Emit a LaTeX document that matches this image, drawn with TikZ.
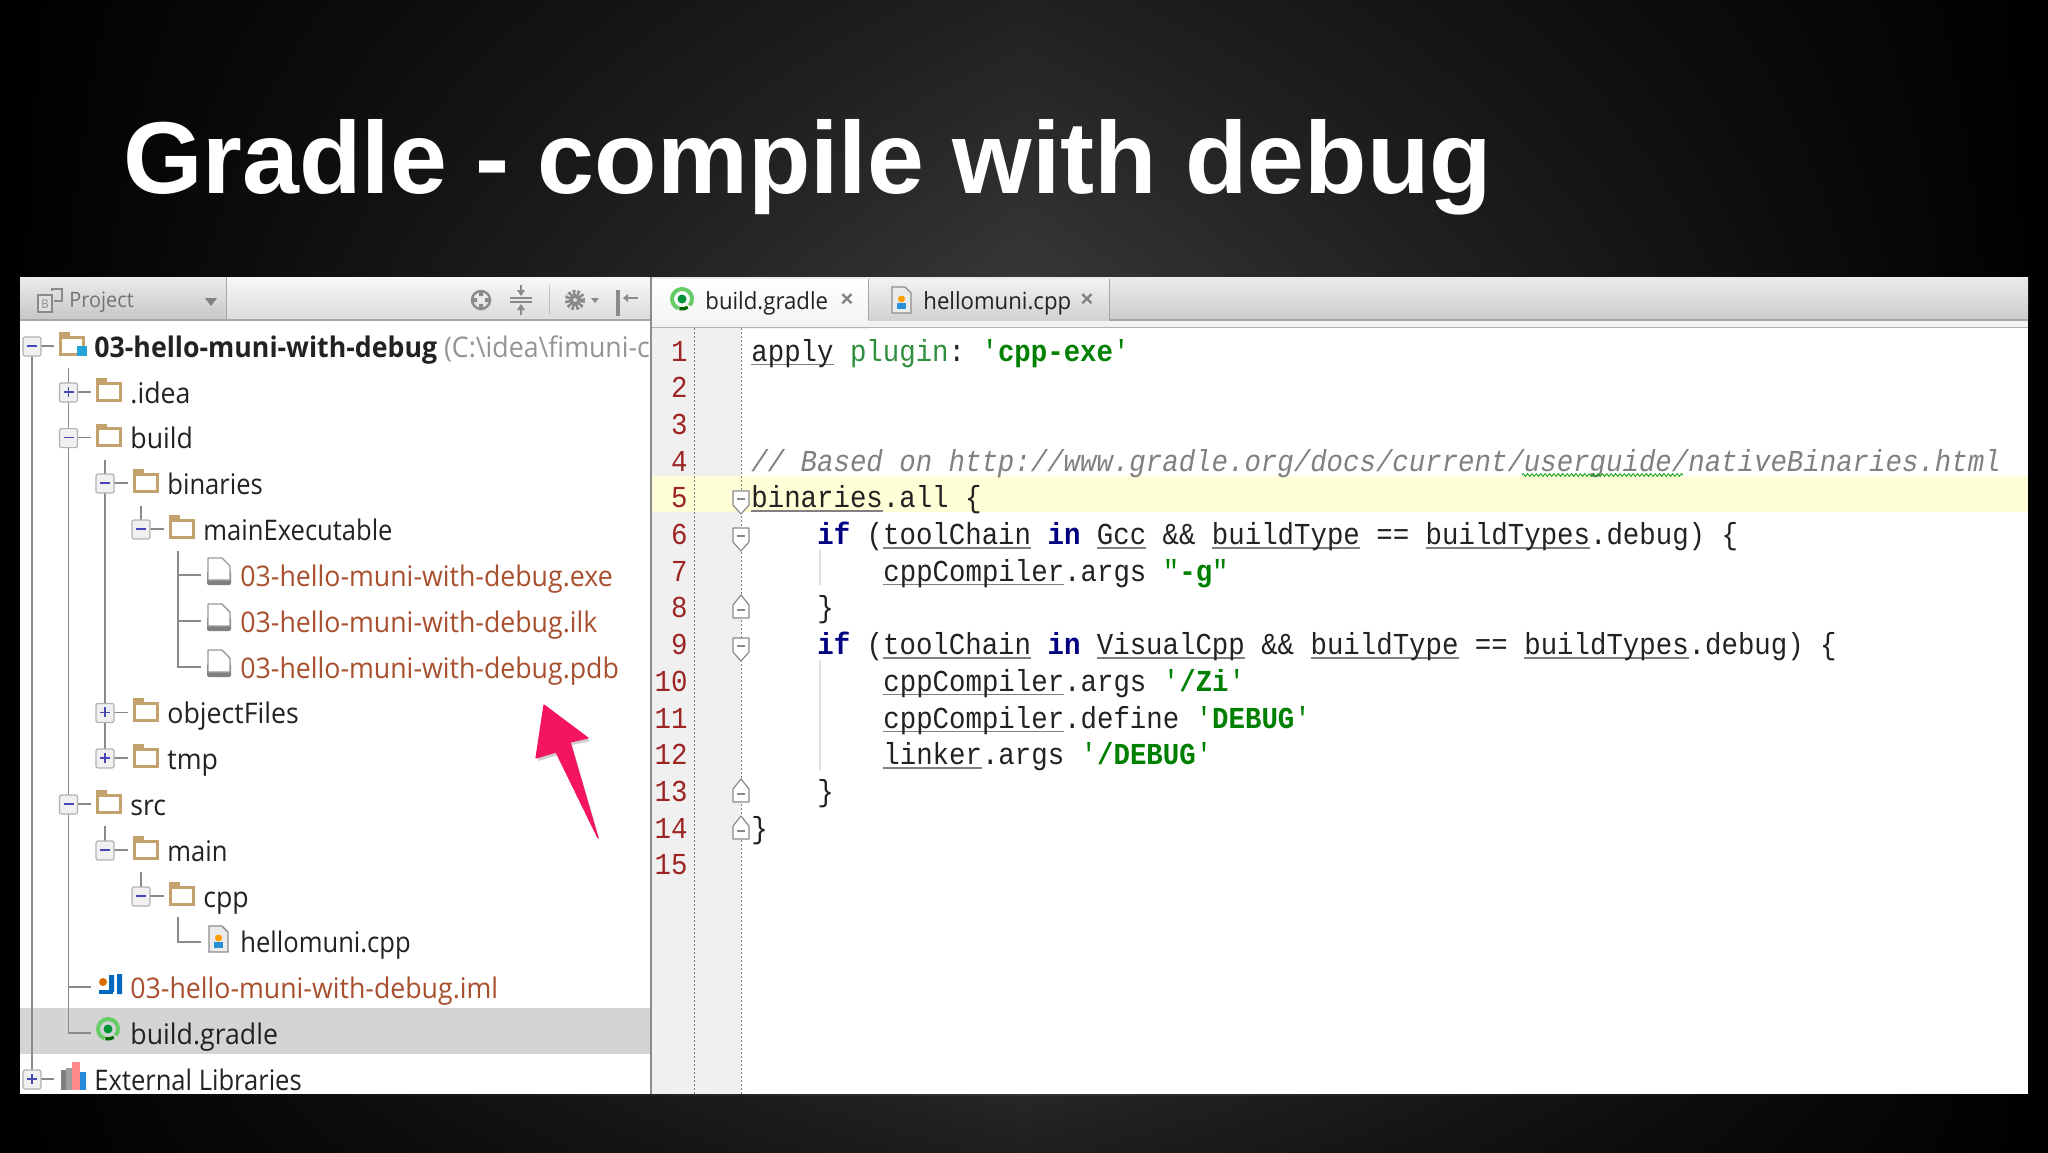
\documentclass[tikz,border=0pt]{standalone}
\usepackage{fontspec}
\usetikzlibrary{decorations.pathmorphing}
\setmainfont{Liberation Sans}
\setmonofont[FakeStretch=0.9]{Liberation Mono}
\newfontfamily\treefont[FakeStretch=0.94]{Open Sans}
\newfontfamily\treenarrow[FakeStretch=0.9]{Open Sans}
\definecolor{folderc}{HTML}{C4A26E}
\definecolor{treeline}{HTML}{8A8A8A}
\definecolor{redfile}{HTML}{A8502E}
\definecolor{lineno}{HTML}{9C2424}
\definecolor{kw}{HTML}{000080}
\definecolor{str}{HTML}{008000}
\definecolor{plug}{HTML}{2F8F3F}
\definecolor{cmt}{HTML}{808080}
\definecolor{codetx}{HTML}{222222}
\definecolor{hl}{HTML}{FFFFD7}
\definecolor{gut}{HTML}{F0F0F0}
\definecolor{pink}{HTML}{F5145F}
\definecolor{icong}{HTML}{8A8A8A}
\newcommand\ulx[1]{\setbox0\hbox{#1}\rlap{\color{cmt}\rule[-2pt]{\wd0}{0.7pt}}\box0\relax}
\newcommand\kwd[1]{{\bfseries\color{kw}#1}}
\newcommand\strb[1]{{\color{str}'\textbf{#1}'}}
\tikzset{
  treetxt/.style={anchor=base west,inner sep=0,font=\treefont\fontsize{14.2}{16}\selectfont,text=codetx},
  narrowtxt/.style={treetxt,font=\treenarrow\fontsize{14.2}{16}\selectfont},
  tabtxt/.style={treetxt,font=\treefont\fontsize{11.8}{14}\selectfont},
  codetxt/.style={anchor=base west,inner sep=0,font=\ttfamily\fontsize{15.22}{17}\selectfont,text=codetx},
  numtxt/.style={anchor=base east,inner sep=0,font=\ttfamily\fontsize{15.22}{17}\selectfont,text=lineno},
  tline/.style={draw=treeline,line width=0.6pt},
  foldm/.style={draw=icong,fill=white,line width=0.6pt,line join=round},
  dots/.style={draw=gray,line width=0.5pt,dash pattern=on 1pt off 1pt},
  tico/.style={draw=icong,line width=1pt}
}
% tree expander: x, y, 1 for plus
\newcommand\expander[3]{%
  \draw[draw=black!30,fill=black!6,line width=0.6pt,rounded corners=1pt] (#1-9,#2-9) rectangle (#1+9,#2+10);
  \draw[draw=blue!45!gray,line width=0.8pt] (#1-5,#2) -- (#1+5,#2);
  \ifnum#3=1 \draw[draw=blue!45!gray,line width=0.8pt] (#1,#2-5) -- (#1,#2+5);\fi}
\newcommand\folder[2]{%
  \fill[folderc] (#1,#2-14) rectangle (#1+11,#2-8);
  \draw[draw=folderc,fill=white,line width=1.5pt] (#1+1,#2-9) rectangle (#1+24,#2+8);}
\newcommand\fileico[2]{%
  \fill[black!50,rounded corners=1pt] (#1,#2-4) rectangle (#1+24,#2+10);
  \draw[draw=black!40,fill=white,line width=0.7pt,line join=round] (#1+1,#2-17) -- (#1+15,#2-17) -- (#1+23,#2-9) -- (#1+23,#2+5) -- (#1+1,#2+5) -- cycle;}
\newcommand\cppico[2]{%
  \draw[draw=black!45,fill=black!8,line width=0.7pt] (#1,#2-15) -- (#1+13,#2-15) -- (#1+19,#2-9) -- (#1+19,#2+11) -- (#1,#2+11) -- cycle;
  \fill[orange!75!yellow] (#1+9.5,#2-3) circle (3.5);
  \fill[blue!40!cyan!70!gray] (#1+5,#2+1) rectangle (#1+14,#2+7);}
\newcommand\gradleico[2]{%
  \draw[draw=green!50!gray!80!white,line width=2pt] (#1+11,#2-1) ++(110:10) arc (110:400:10);
  \draw[draw=green!40!black,line width=1.6pt] (#1+11,#2-1) ++(55:10) arc (55:105:10);
  \fill[green!45!teal!80!black] (#1+11,#2-1) circle (4.5);}
\newcommand\foldd[2]{%
  \draw[foldm] (#1-8,#2-8) -- (#1+8,#2-8) -- (#1+8,#2+6) -- (#1,#2+15) -- (#1-8,#2+6) -- cycle;
  \draw[draw=icong,line width=0.6pt] (#1-4,#2) -- (#1+4,#2);}
\newcommand\foldu[2]{%
  \draw[foldm] (#1-8,#2+9) -- (#1+8,#2+9) -- (#1+8,#2-4) -- (#1,#2-14) -- (#1-8,#2-4) -- cycle;
  \draw[draw=icong,line width=0.6pt] (#1-4,#2+1) -- (#1+4,#2+1);}
\begin{document}
\begin{tikzpicture}[x=0.5pt,y=-0.5pt]
\useasboundingbox (0,0) rectangle (2048,1152);
% slide background: horizontal falloff to black, centre brightness varies with height
\foreach \yy in {0,8,...,1144}{
  \pgfmathsetmacro\vv{\yy<280 ? 0.13+0.085*\yy/280 : (\yy<1094 ? 0.2 : 0.15-0.03*(\yy-1094)/58)}
  \definecolor{bandc}{gray}{\vv}
  \shade[left color=black,right color=black,middle color=bandc] (0,\yy) rectangle (2048,\yy+9);
}
% title
\node[anchor=base west,inner sep=0,text=white,font=\bfseries\fontsize{51.1}{56}\selectfont] (title) at (123,193) {Gradle - compile with debug};
% window
\fill[white] (20,277) rectangle (2028,1094);
% toolbar
\shade[top color=black!3,bottom color=black!14] (20,277) rectangle (650,320);
\shade[top color=black!8,bottom color=black!22] (20,277) rectangle (226,320);
\draw[draw=black!35,line width=0.5pt] (226,277) -- (226,320);
\draw[draw=black!35,line width=1pt] (20,320) -- (650,320);
% tab bar
\shade[top color=black!8,bottom color=black!20] (650,277) rectangle (2028,320);
\fill[black!5] (650,320) rectangle (2028,328);
\draw[draw=black!35,line width=0.8pt] (1109,320) -- (2028,320);
\shade[top color=white,bottom color=black!5] (652,279) rectangle (868,328);
\shade[top color=black!5,bottom color=black!18] (868,279) rectangle (1109,320);
\draw[draw=black!35,line width=0.5pt] (868,279) -- (868,320) (1109,279) -- (1109,320);
\draw[draw=black!30,line width=0.6pt] (650,327.5) -- (2028,327.5);
% toolbar icons
\draw[draw=icong,fill=black!12,line width=1pt] (38,295) rectangle (52,312);
\node[inner sep=0,font=\treefont\fontsize{6}{7}\selectfont,text=icong] (pi) at (45,304) {B};
\draw[draw=icong,line width=1pt] (52,291) -- (52,289) -- (62,289) -- (62,301) -- (54,301);
\node[treetxt,text=black!55,font=\treefont\fontsize{10.6}{13}\selectfont] (projectlbl) at (69,307) {Project};
\fill[black!50] (205,298) -- (217,298) -- (211,306) -- cycle;
\draw[draw=icong,line width=1.2pt] (481,300) circle (9);
\fill[icong] (479,290) rectangle (483,296) (479,304) rectangle (483,310) (471,298) rectangle (477,302) (485,298) rectangle (491,302);
\draw[tico] (510,298) -- (532,298) (510,302) -- (532,302);
\fill[icong] (521,296) -- (517,290) -- (525,290) -- cycle (521,304) -- (517,310) -- (525,310) -- cycle;
\draw[draw=icong,line width=1pt] (521,285) -- (521,291) (521,309) -- (521,315);
\draw[draw=black!25,line width=0.5pt] (549,285) -- (549,314);
\draw[draw=icong,line width=2.2pt,dash pattern=on 1.3pt off 0.9pt] (575,300) circle (8);
\fill[icong] (575,300) circle (6);
\fill[white!85!black] (575,300) circle (2);
\fill[icong] (591,298) -- (599,298) -- (595,303) -- cycle;
\fill[icong] (616,290) rectangle (620,316);
\draw[tico] (624,298) -- (638,298);
\fill[icong] (623,298) -- (628,294) -- (628,302) -- cycle;
% panel border and tree
\fill[black!17] (20,1008) rectangle (650,1054);
\draw[tline] (32,346) -- (32,1079);
\draw[tline] (68.5,368) -- (68.5,1033) -- (91,1033);
\draw[tline] (105,460) -- (105,758);
\draw[tline] (141,506) -- (141,529);
\draw[tline] (178,551) -- (178,667) -- (201,667);
\draw[tline] (178,575) -- (201,575) (178,621) -- (201,621);
\draw[tline] (105,826) -- (105,850);
\draw[tline] (141,872) -- (141,896);
\draw[tline] (178,917) -- (178,942) -- (201,942);
\draw[tline] (68.5,987) -- (91,987);
\draw[tline] (32,346) -- (54,346) (32,1079) -- (54,1079);
\draw[tline] (68.5,392) -- (91,392) (68.5,437.6) -- (91,437.6) (68.5,804) -- (91,804);
\draw[tline] (105,483) -- (128,483) (105,712.4) -- (128,712.4) (105,758) -- (128,758) (105,850) -- (128,850);
\draw[tline] (141,529) -- (164,529) (141,896) -- (164,896);
\expander{32}{346}{0}
\expander{68.5}{392}{1}
\expander{68.5}{437.6}{0}
\expander{105}{483}{0}
\expander{141}{529}{0}
\expander{105}{712.4}{1}
\expander{105}{758}{1}
\expander{68.5}{804}{0}
\expander{105}{850}{0}
\expander{141}{896}{0}
\expander{32}{1079}{1}
\folder{59}{346}
\fill[blue!30!cyan!70!gray] (77,346) rectangle (87,356);
\folder{96}{392}
\folder{96}{437.6}
\folder{133}{483}
\folder{169}{529}
\folder{133}{712.4}
\folder{133}{758}
\folder{96}{804}
\folder{133}{850}
\folder{169}{896}
\fileico{207}{575}
\fileico{207}{621}
\fileico{207}{667}
\cppico{209}{941}
% iml icon
\fill[blue!45!cyan!75!black] (109,975) rectangle (114,992) (117,974) rectangle (122,994);
\draw[draw=blue!45!cyan!75!black,line width=1.8pt] (99,992) -- (113,992);
\fill[orange!85!black] (103,982) circle (4);
\gradleico{97}{1030}
% libraries icon
\fill[black!50] (61,1070) rectangle (69,1090);
\fill[black!38] (66,1068) rectangle (72,1090);
\fill[red!45!white] (72,1062) rectangle (80,1090);
\fill[blue!45!cyan!70!gray] (80,1072) rectangle (86,1090);
\begin{scope}
\clip (20,320) rectangle (650,1094);
\node[treetxt] (root) at (94,357) {\textbf{03-hello-muni-with-debug}\ {\color{black!42}(C:\textbackslash idea\textbackslash fimuni-c}};
\node[treetxt] (idea) at (130,403) {.idea};
\node[treetxt] (build) at (130,448.6) {build};
\node[narrowtxt] (binaries) at (167,494) {binaries};
\node[narrowtxt] (mainexe) at (203,540) {mainExecutable};
\node[treetxt,text=redfile] (exe) at (240,586) {03-hello-muni-with-debug.exe};
\node[treetxt,text=redfile] (ilk) at (240,632) {03-hello-muni-with-debug.ilk};
\node[treetxt,text=redfile] (pdb) at (240,678) {03-hello-muni-with-debug.pdb};
\node[treetxt] (objf) at (167,723.4) {objectFiles};
\node[treetxt] (tmp) at (167,769) {tmp};
\node[treetxt] (src) at (130,815) {src};
\node[narrowtxt] (mainf) at (167,861) {main};
\node[treetxt] (cpp) at (203,907) {cpp};
\node[narrowtxt] (hello) at (240,952.4) {hellomuni.cpp};
\node[treetxt,text=redfile] (iml) at (130,998) {03-hello-muni-with-debug.iml};
\node[treetxt] (bg) at (130,1044) {build.gradle};
\node[narrowtxt] (extlib) at (94,1090) {External Libraries};
\end{scope}
\draw[draw=black!45,line width=0.6pt] (651,277) -- (651,1094);
% tabs content
\gradleico{671}{300}
\node[tabtxt] (tab1) at (705,309) {build.gradle};
\node[inner sep=0,text=black!50,font=\bfseries\fontsize{11}{12}\selectfont] (x1) at (847,300) {×};
\cppico{892}{302}
\node[tabtxt] (tab2) at (923,309) {hellomuni.cpp};
\node[inner sep=0,text=black!50,font=\bfseries\fontsize{11}{12}\selectfont] (x2) at (1087,300) {×};
% editor
\fill[gut] (652,328) rectangle (741,1094);
\fill[hl] (652,476) rectangle (2028,512);
\draw[dots] (694,328) -- (694,1094);
\draw[dots] (741,328) -- (741,1094);
\draw[draw=black!12,line width=0.6pt] (820,550) -- (820,585) (820,660) -- (820,770);
\foreach \n [count=\i from 0] in {1,...,15}{
  \node[numtxt] (n\n) at (688,361+36.7*\i) {\n};
}
\foldd{741}{499}
\foldd{741}{536}
\foldu{741}{609}
\foldd{741}{646}
\foldu{741}{793}
\foldu{741}{830}
\node[codetxt] (c1) at (751,361) {\ulx{apply} {\color{plug}plugin}: \strb{cpp-exe}};
\node[codetxt,text=cmt,font=\ttfamily\itshape\fontsize{15.22}{17}\selectfont] (c4) at (751,471.1) {// Based on http://www.gradle.org/docs/current/userguide/nativeBinaries.html};
\coordinate (sqa) at (1522,475);
\coordinate (sqb) at (1683,475);
\draw[draw=green!60!black,line width=0.4pt,decorate,decoration={zigzag,segment length=2.2pt,amplitude=0.7pt}] (sqa) -- (sqb);
\node[codetxt] (c5) at (751,507.8) {\ulx{binaries}.all \{};
\node[codetxt] (c6) at (817,544.5) {\kwd{if} (\ulx{toolChain} \kwd{in} \ulx{Gcc} \&\& \ulx{buildType} == \ulx{buildTypes}.debug) \{};
\node[codetxt] (c7) at (883,581.2) {\ulx{cppCompiler}.args {\color{str}"\textbf{-g}"}};
\node[codetxt] (c8) at (817,617.9) {\}};
\node[codetxt] (c9) at (817,654.6) {\kwd{if} (\ulx{toolChain} \kwd{in} \ulx{VisualCpp} \&\& \ulx{buildType} == \ulx{buildTypes}.debug) \{};
\node[codetxt] (c10) at (883,691.3) {\ulx{cppCompiler}.args \strb{/Zi}};
\node[codetxt] (c11) at (883,728) {\ulx{cppCompiler}.define \strb{DEBUG}};
\node[codetxt] (c12) at (883,764.7) {\ulx{linker}.args \strb{/DEBUG}};
\node[codetxt] (c13) at (817,801.4) {\}};
\node[codetxt] (c14) at (751,838.1) {\}};
% arrow
\fill[black,opacity=0.2] (546,708) -- (590,741) -- (572,745) -- (600,841) -- (558,755) -- (538,761) -- cycle;
\fill[pink,draw=pink,line width=0.6pt,line join=round] (544,705) -- (588,738) -- (570,742) -- (598,838) -- (556,752) -- (536,758) -- cycle;
\end{tikzpicture}
\end{document}
